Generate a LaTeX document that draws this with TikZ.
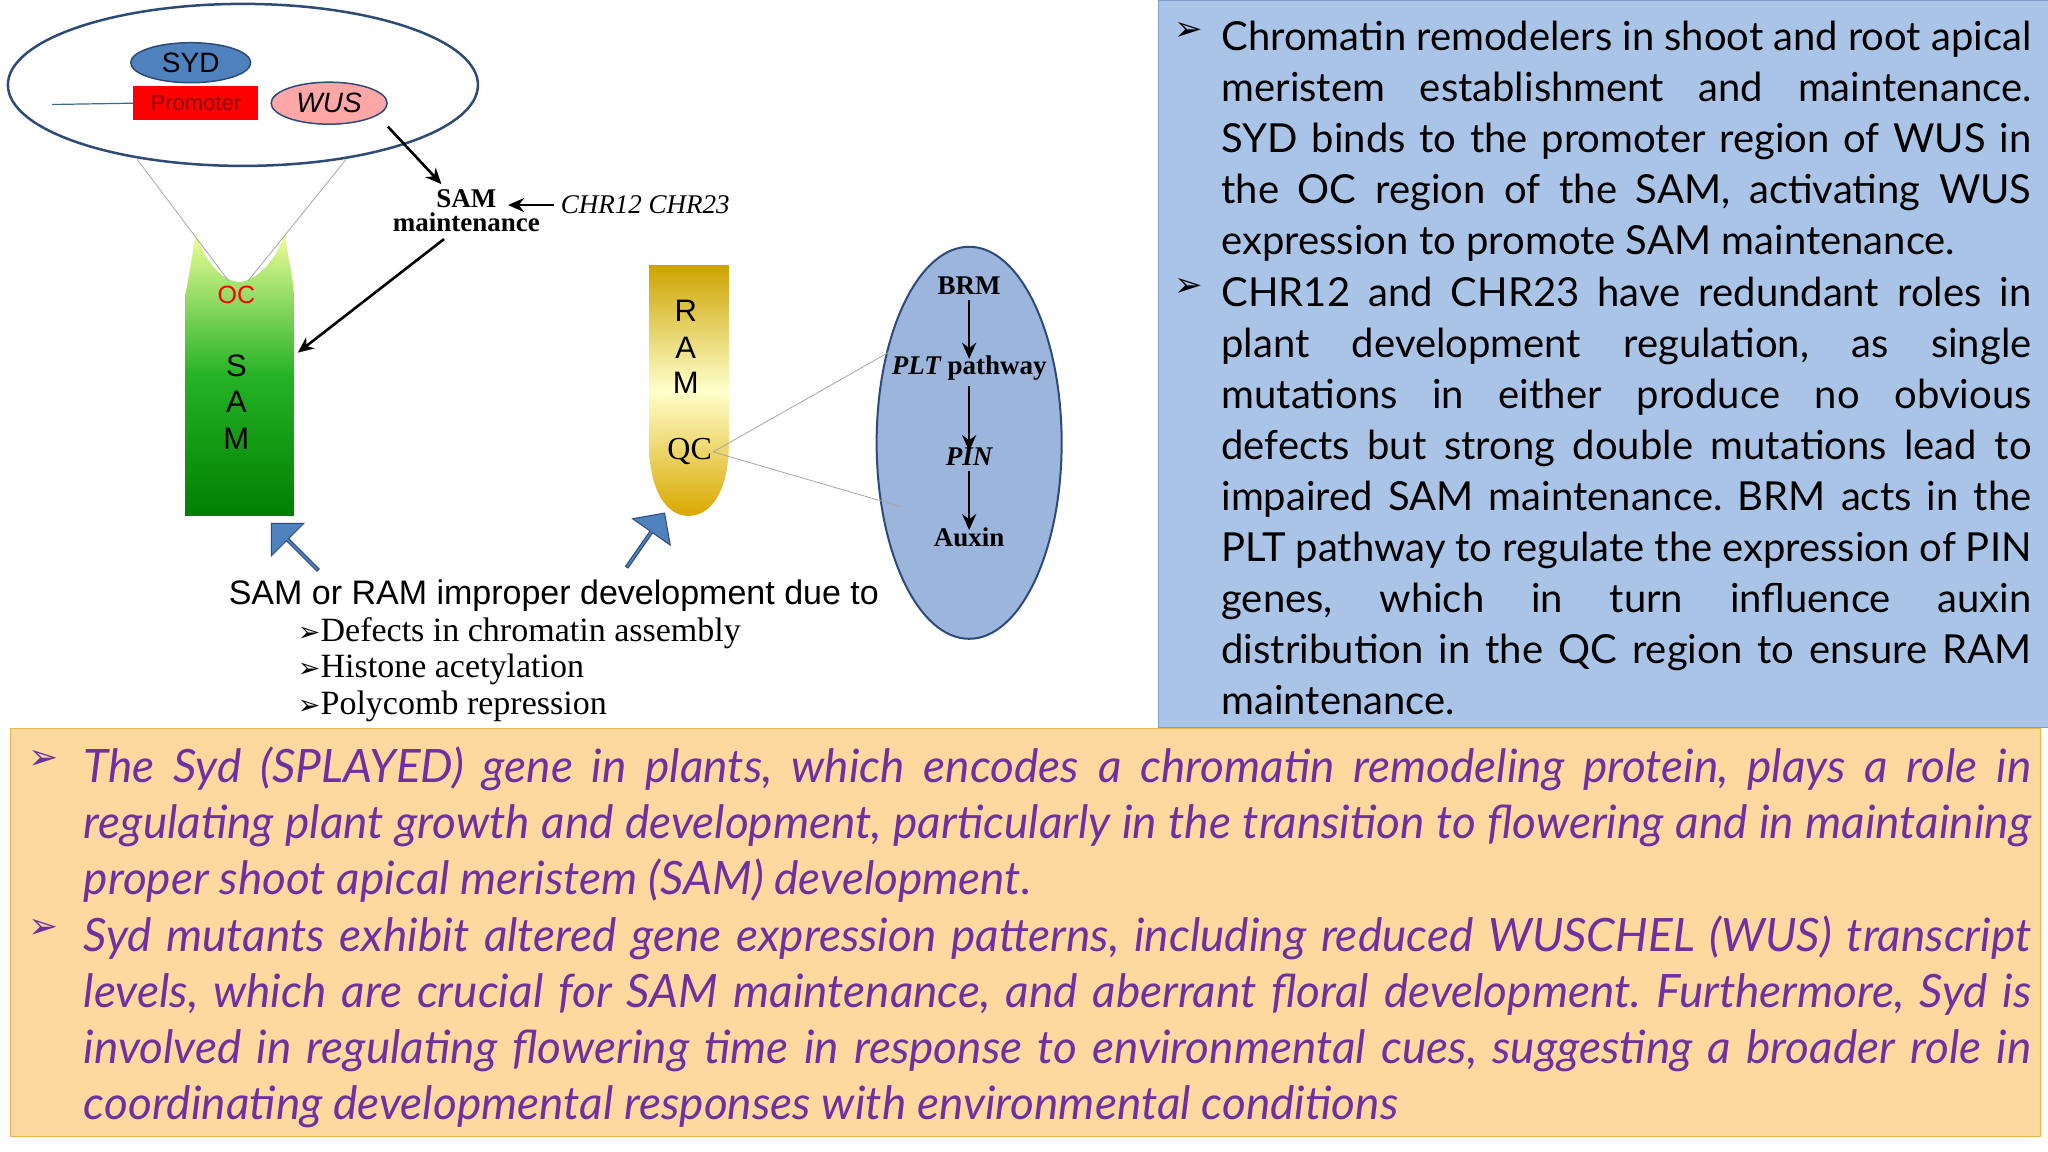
\documentclass[tikz,border=0pt]{standalone}
\usepackage{fontspec}
\setmainfont{Lato}
\newfontfamily\ar{Liberation Sans}
\newfontfamily\tm{Liberation Serif}
\newfontfamily\dv{DejaVu Sans}
\usetikzlibrary{shapes.geometric,shapes.arrows,arrows.meta}
\definecolor{pblue}{HTML}{A9C4E6}
\definecolor{oval}{HTML}{9BB5DC}
\definecolor{pborder}{HTML}{7F9FCB}
\definecolor{porange}{HTML}{FDD9A0}
\definecolor{oborder}{HTML}{E9B44A}
\definecolor{purp}{HTML}{7030A0}
\definecolor{dblue}{HTML}{2E4A78}
\definecolor{mblue}{HTML}{4F81BD}
\tikzset{
 x=1.306pt,y=-1.306pt,
 blk/.style={-{Stealth[length=16pt,width=14pt]},line width=2.6pt},
 thin/.style={draw=gray!70,line width=0.8pt},
 lbl/.style={font=\tm\bfseries\fontsize{27}{28}\selectfont,inner sep=0},
 blockarrow/.style={single arrow,fill=mblue,draw=dblue,line width=1pt,minimum height=66pt,minimum width=46pt,single arrow head extend=7pt,inner sep=0,shape border uses incircle=false}
}
\begin{document}
\frenchspacing
\begin{tikzpicture}
\useasboundingbox (0,0) rectangle (1568,882);
\fill[white] (0,0) rectangle (1568,882);
% right panel
\path[fill=pblue,draw=pborder,line width=1pt] (887,0) rectangle (1568,557);
\node[inner sep=0,font=\dv\fontsize{34}{34}\selectfont] (b1) at (910,24) {➢};
\node[inner sep=0,font=\dv\fontsize{34}{34}\selectfont] (b2) at (910,220) {➢};
\node[anchor=north west,inner sep=0,text width=810pt,align=justify,font=\fontsize{40}{51}\selectfont] (t1) at (935,16)
 {Chromatin remodelers in shoot and root apical\linebreak meristem establishment and maintenance.\linebreak SYD binds to the promoter region of WUS in\linebreak the OC region of the SAM, activating WUS\linebreak expression to promote SAM maintenance.};
\node[anchor=north west,inner sep=0,text width=810pt,align=justify,font=\fontsize{40}{51}\selectfont] (t2) at (935,212)
 {CHR12 and CHR23 have redundant roles in\linebreak plant development regulation, as single\linebreak mutations in either produce no obvious\linebreak defects but strong double mutations lead to\linebreak impaired SAM maintenance. BRM acts in the\linebreak PLT pathway to regulate the expression of PIN\linebreak genes, which in turn influence auxin\linebreak distribution in the QC region to ensure RAM\linebreak maintenance.};
% bottom panel
\path[fill=porange,draw=oborder,line width=1pt] (8,558) rectangle (1562,870);
\node[inner sep=0,text=purp,font=\dv\fontsize{36}{36}\selectfont] (b3) at (33,582) {➢};
\node[inner sep=0,text=purp,font=\dv\fontsize{36}{36}\selectfont] (b4) at (33,711) {➢};
\node[anchor=north west,inner sep=0,text width=1947pt,align=justify,text=purp,font=\itshape\fontsize{46}{56}\selectfont] (t3) at (64,572)
 {The Syd (SPLAYED) gene in plants, which encodes a chromatin remodeling protein, plays a role in\linebreak regulating plant growth and development, particularly in the transition to flowering and in maintaining\linebreak proper shoot apical meristem (SAM) development.};
\node[anchor=north west,inner sep=0,text width=1947pt,align=justify,text=purp,font=\itshape\fontsize{46}{56}\selectfont] (t4) at (64,701)
 {Syd mutants exhibit altered gene expression patterns, including reduced WUSCHEL (WUS) transcript\linebreak levels, which are crucial for SAM maintenance, and aberrant floral development. Furthermore, Syd is\linebreak involved in regulating flowering time in response to environmental cues, suggesting a broader role in\linebreak coordinating developmental responses with environmental conditions};
% top-left ellipse
\node[ellipse,draw=dblue,line width=2.5pt,minimum width=470pt,minimum height=162pt,inner sep=0] (big) at (186,65) {};
\coordinate (l0) at (40,80);
\node[ellipse,fill=mblue,draw=dblue,line width=1.5pt,minimum width=120pt,minimum height=40pt,inner sep=0,font=\ar\fontsize{28}{28}\selectfont,text=black] (syd) at (146,48) {SYD};
\node[fill=red,minimum width=125pt,minimum height=34pt,inner sep=0,font=\ar\fontsize{22}{22}\selectfont,text=red!55!black] (prom) at (150,79) {Promoter};
\draw[mblue!80!black,line width=1.2pt] (l0) -- (prom.west);
\node[ellipse,fill=red!35!white,draw=dblue,line width=1.5pt,minimum width=116pt,minimum height=42pt,inner sep=0,font=\ar\itshape\fontsize{28}{28}\selectfont] (wus) at (252,79) {WUS};
% SAM
\shade[top color=green!15!yellow!40!white,bottom color=green!50!black,middle color=green!65!black!85!white] (142,395) -- (142,225) .. controls (146,205) and (148,190) .. (150,178) .. controls (156,200) and (170,215) .. (183,216) .. controls (196,215) and (212,200) .. (218,178) .. controls (220,195) and (224,210) .. (225,225) -- (225,395) -- cycle;
\coordinate (c1) at (105,122);\coordinate (c2) at (175,215);
\coordinate (c3) at (265,122);\coordinate (c4) at (190,215);
\draw[thin] (c1) -- (c2) (c3) -- (c4);
\node[text=red,font=\ar\fontsize{25}{25}\selectfont] (oc) at (181,226) {OC};
\node[font=\ar\fontsize{31}{31}\selectfont] (s1) at (181,280) {S};
\node[font=\ar\fontsize{31}{31}\selectfont] (s2) at (181,308) {A};
\node[font=\ar\fontsize{31}{31}\selectfont] (s3) at (181,336) {M};
\coordinate (samtgt) at (228,270);
% SAM maintenance
\node[lbl,align=center] (sm) at (357,161) {SAM\\[-4pt]maintenance};
\node[inner sep=0,font=\tm\itshape\fontsize{27}{27}\selectfont] (chr) at (494,157) {CHR12 CHR23};
\coordinate (a1) at (297,97);
\draw[blk] (a1) -- (338,141);
\draw[blk] (340,183) -- (samtgt);
\draw[blk] (chr.west) ++(-5,0) -- (389,157);
% RAM
\shade[top color=yellow!60!orange!80!black,bottom color=yellow!55!orange!85!black,middle color=yellow!20!white] (497,203) -- (558,203) -- (558,340) .. controls (558,375) and (545,395) .. (527,395) .. controls (510,395) and (497,375) .. (497,340) -- cycle;
\node[font=\ar\fontsize{31}{31}\selectfont] (r1) at (525,238) {R};
\node[font=\ar\fontsize{31}{31}\selectfont] (r2) at (525,266) {A};
\node[font=\ar\fontsize{31}{31}\selectfont] (r3) at (525,293) {M};
\node[font=\tm\fontsize{32}{32}\selectfont,inner sep=1pt] (qc) at (528,346) {QC};
% right ellipse
\node[ellipse,fill=oval,draw=dblue,line width=2pt,minimum width=185pt,minimum height=392pt,inner sep=0] (ov) at (742,339) {};
\coordinate (o1) at (680,270);\coordinate (o2) at (690,388);
\draw[thin] (qc.east) -- (o1) (qc.east) -- (o2);
\node[lbl] (brm) at (742,219) {BRM};
\node[lbl] (plt) at (742,282) {\itshape PLT\normalfont\tm\bfseries\ pathway};
\node[lbl,font=\tm\bfseries\itshape\fontsize{27}{28}\selectfont] (pin) at (742,350) {PIN};
\node[lbl] (aux) at (742,411) {Auxin};
\draw[blk] (brm.south) ++(0,4) -- ([yshift=-3pt]plt.north);
\draw[blk] (plt.south) ++(0,4) -- ([yshift=-3pt]pin.north);
\draw[blk] (pin.south) ++(0,4) -- ([yshift=-3pt]aux.north);
% block arrows
\node[blockarrow,rotate=135] (ba1) at (226,419) {};
\node[blockarrow,rotate=55] (ba2) at (494,414) {};
% caption
\node[anchor=base west,inner sep=0,font=\ar\fontsize{34}{34}\selectfont] (cap) at (175,463) {SAM or RAM improper development due to};
\node[anchor=base west,inner sep=0,font=\tm\fontsize{34}{34}\selectfont] (l1) at (228,491) {{\dv\fontsize{27}{27}\selectfont ➢}Defects in chromatin assembly};
\node[anchor=base west,inner sep=0,font=\tm\fontsize{34}{34}\selectfont] (l2) at (228,519) {{\dv\fontsize{27}{27}\selectfont ➢}Histone acetylation};
\node[anchor=base west,inner sep=0,font=\tm\fontsize{34}{34}\selectfont] (l3) at (228,547) {{\dv\fontsize{27}{27}\selectfont ➢}Polycomb repression};
\end{tikzpicture}
\end{document}
